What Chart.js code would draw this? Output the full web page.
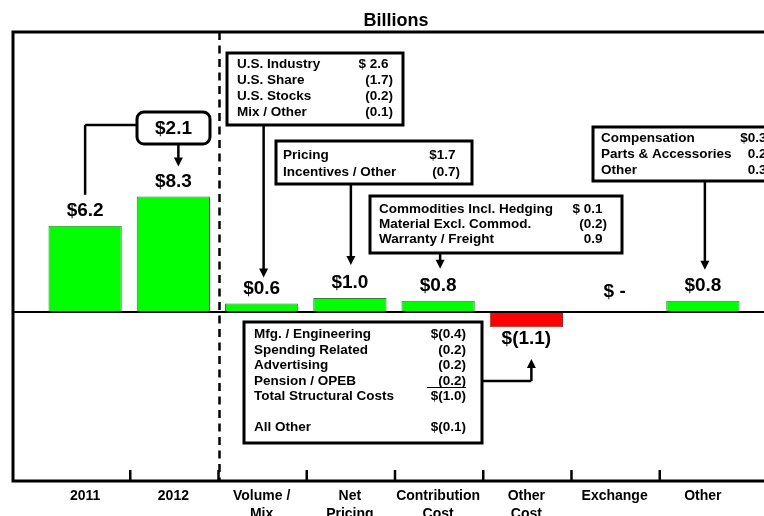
<!DOCTYPE html>
<html>
<head>
<meta charset="utf-8">
<script src="https://cdn.jsdelivr.net/npm/chart.js@4.4.1/dist/chart.umd.min.js"></script>
<style>
  html, body { margin: 0; padding: 0; background: #fff; }
  #wrap { width: 764px; height: 516px; }
</style>
</head>
<body>
<div id="wrap"><canvas id="chart"></canvas></div>
<script>
// Chart data
const categories = ['2011', '2012', ['Volume /', 'Mix'], ['Net', 'Pricing'], ['Contribution', 'Cost'], ['Other', 'Cost'], 'Exchange', 'Other'];
const values = [6.2, 8.3, 0.6, 1.0, 0.8, -1.1, 0, 0.8];
const valueLabels = ['$6.2', '$8.3', '$0.6', '$1.0', '$0.8', '$(1.1)', '$ -', '$0.8'];
const changeLabel = '$2.1';

// Callout contents
const volumeItems = ['U.S. Industry', 'U.S. Share', 'U.S. Stocks', 'Mix / Other'];
const volumeAmounts = ['$ 2.6', '(1.7)', '(0.2)', '(0.1)'];
const pricingItems = ['Pricing', 'Incentives / Other'];
const pricingAmounts = ['$1.7', '(0.7)'];
const contribItems = ['Commodities Incl. Hedging', 'Material Excl. Commod.', 'Warranty / Freight'];
const contribAmounts = ['$ 0.1', '(0.2)', '0.9'];
const otherItems = ['Compensation', 'Parts & Accessories', 'Other'];
const otherAmounts = ['$0.3', '0.2', '0.3'];
const costItems = ['Mfg. / Engineering', 'Spending Related', 'Advertising', 'Pension / OPEB', 'Total Structural Costs', '', 'All Other'];
const costAmounts = ['$(0.4)', '(0.2)', '(0.2)', '(0.2)', '$(1.0)', '', '$(0.1)'];

const FONT = '"Liberation Sans", Arial, sans-serif';
const GREEN = '#00ff00';
const RED = '#ff0000';

function line(ctx, x1, y1, x2, y2) {
    ctx.beginPath();
    ctx.moveTo(x1, y1);
    ctx.lineTo(x2, y2);
    ctx.stroke();
}

function arrowHead(ctx, x, tipY, dir) {
    // dir = 1 points down, -1 points up
    ctx.beginPath();
    ctx.moveTo(x, tipY);
    ctx.lineTo(x - 4.5, tipY - 9 * dir);
    ctx.lineTo(x + 4.5, tipY - 9 * dir);
    ctx.closePath();
    ctx.fill();
}

function callout(ctx, box, items, amounts, opts) {
    ctx.lineWidth = 3;
    ctx.fillStyle = '#fff';
    ctx.fillRect(box.x, box.y, box.w, box.h);
    ctx.strokeRect(box.x, box.y, box.w, box.h);
    ctx.fillStyle = '#000';
    ctx.font = 'bold 13.5px ' + FONT;
    ctx.textBaseline = 'alphabetic';
    const paren = ctx.measureText(')').width;
    items.forEach((item, i) => {
        const by = opts.base + i * opts.step;
        ctx.textAlign = 'left';
        ctx.fillText(item, opts.left, by);
        const amt = amounts[i];
        if (amt) {
            ctx.textAlign = 'right';
            const shift = amt.endsWith(')') ? 0 : paren;
            ctx.fillText(amt, opts.right - shift, by);
        }
    });
}

const decorations = {
    id: 'decorations',
    afterDraw(chart) {
        const ctx = chart.ctx;
        const a = chart.chartArea;
        const xs = chart.scales.x;
        const ys = chart.scales.y;
        const y0 = ys.getPixelForValue(0);
        const cx = i => xs.getPixelForValue(i);
        ctx.save();
        ctx.strokeStyle = '#000';
        ctx.fillStyle = '#000';

        // title
        ctx.font = 'bold 18px ' + FONT;
        ctx.textAlign = 'center';
        ctx.textBaseline = 'alphabetic';
        ctx.fillText('Billions', 396, 26);

        // plot frame
        ctx.lineWidth = 3;
        ctx.strokeRect(13, a.top, chart.width + 20, a.bottom - a.top);

        // zero line
        ctx.lineWidth = 2;
        line(ctx, 13, y0, chart.width, y0);

        // tick marks between categories
        ctx.lineWidth = 2.5;
        for (let i = 1; i < categories.length; i++) {
            const px = (cx(i - 1) + cx(i)) / 2 + 1;
            line(ctx, px, a.bottom, px, a.bottom - 11);
        }

        // dashed divider between years and walk
        const divX = (cx(1) + cx(2)) / 2 + 2;
        ctx.setLineDash([8, 5.5]);
        ctx.lineWidth = 2.5;
        line(ctx, divX, a.top, divX, a.bottom);
        ctx.setLineDash([]);

        // value labels
        ctx.font = 'bold 19px ' + FONT;
        ctx.textAlign = 'center';
        ctx.textBaseline = 'middle';
        const labelY = [];
        values.forEach((v, i) => {
            let ly;
            if (v > 0) ly = ys.getPixelForValue(v) - 15;
            else if (v < 0) ly = ys.getPixelForValue(v) + 12;
            else ly = y0 - 20;
            labelY.push(ly);
            ctx.fillText(valueLabels[i], cx(i), ly);
        });

        // $2.1 change callout
        const bx = 137, bw = 73, by = 112, bh = 32;
        ctx.lineWidth = 2.5;
        line(ctx, bx, by + 13, cx(0), by + 13);
        line(ctx, cx(0), by + 13, cx(0), labelY[0] - 16);
        line(ctx, cx(1) + 5, by + bh, cx(1) + 5, labelY[1] - 20);
        arrowHead(ctx, cx(1) + 5, labelY[1] - 15, 1);
        ctx.lineWidth = 3;
        ctx.fillStyle = '#fff';
        ctx.beginPath();
        ctx.roundRect(bx, by, bw, bh, 7);
        ctx.fill();
        ctx.stroke();
        ctx.fillStyle = '#000';
        ctx.textAlign = 'center';
        ctx.textBaseline = 'middle';
        ctx.fillText(changeLabel, bx + bw / 2, by + bh / 2 + 1);

        // callout arrows (drawn first, boxes over them)
        const arrows = [
            { x: cx(2) + 2, from: 125, tip: labelY[2] - 11 },
            { x: cx(3) + 1, from: 184, tip: labelY[3] - 18 },
            { x: cx(4) + 2, from: 253, tip: labelY[4] - 17 },
            { x: cx(7) + 2, from: 181, tip: labelY[7] - 16 }
        ];
        ctx.lineWidth = 2.5;
        arrows.forEach(ar => {
            line(ctx, ar.x, ar.from, ar.x, ar.tip - 6);
            arrowHead(ctx, ar.x, ar.tip, 1);
        });

        // cost arrow going up to $(1.1)
        const ux = cx(5) + 5;
        line(ctx, 482, 381, ux, 381);
        line(ctx, ux, 381, ux, 366);
        arrowHead(ctx, ux, 359, -1);

        // boxes
        callout(ctx, { x: 227, y: 53, w: 176, h: 72 }, volumeItems, volumeAmounts,
            { left: 237, right: 393, base: 68, step: 16 });
        callout(ctx, { x: 276, y: 141, w: 196, h: 43 }, pricingItems, pricingAmounts,
            { left: 283, right: 460, base: 159, step: 17 });
        callout(ctx, { x: 370, y: 196, w: 252, h: 57 }, contribItems, contribAmounts,
            { left: 379, right: 607, base: 213, step: 15 });
        callout(ctx, { x: 593, y: 127, w: 200, h: 54 }, otherItems, otherAmounts,
            { left: 601, right: 771, base: 142, step: 16 });
        callout(ctx, { x: 244, y: 322, w: 238, h: 121 }, costItems, costAmounts,
            { left: 254, right: 466, base: 338, step: 15.5 });

        // subtotal rule under pension
        ctx.lineWidth = 1.2;
        line(ctx, 427, 387.5, 466, 387.5);

        ctx.restore();
    }
};

const ctx = document.getElementById('chart').getContext('2d');
new Chart(ctx, {
    type: 'bar',
    data: {
        labels: categories,
        datasets: [{
            data: values,
            backgroundColor: values.map(v => v < 0 ? RED : GREEN),
            borderColor: values.map(v => v < 0 ? '#8a3030' : '#3a7a3a'),
            borderWidth: 1,
            barPercentage: 0.83,
            categoryPercentage: 1.0
        }]
    },
    options: {
        responsive: true,
        maintainAspectRatio: false,
        animation: false,
        layout: {
            padding: { left: 41, right: 17, top: 32, bottom: 0 }
        },
        plugins: {
            legend: { display: false },
            title: { display: false },
            tooltip: { enabled: false }
        },
        scales: {
            x: {
                grid: { display: false, drawTicks: false },
                border: { display: false },
                ticks: {
                    color: '#000',
                    font: { family: FONT, size: 14, weight: 'bold', lineHeight: 1.3 },
                    padding: 6,
                    maxRotation: 0,
                    autoSkip: false
                },
                afterFit(scale) {
                    scale.height = 35;
                }
            },
            y: {
                display: false,
                min: -12.16,
                max: 20.14
            }
        }
    },
    plugins: [decorations]
});
</script>
</body>
</html>
